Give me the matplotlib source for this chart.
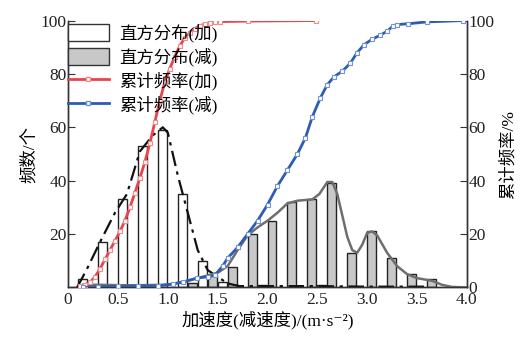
import numpy as np
import matplotlib
matplotlib.use("Agg")
import matplotlib.pyplot as plt
from matplotlib.patches import Patch
from matplotlib.lines import Line2D

plt.rcParams["font.family"] = ["Liberation Serif", "Noto Sans CJK SC", "DejaVu Sans"]

# histogram (accel) - left edges and counts
acc_left = [0.1, 0.3, 0.5, 0.7, 0.9, 1.1, 1.3, 1.5, 1.9, 2.5]
acc_count = [3, 17, 33, 53, 59, 35, 10, 2, 1, 1]
# histogram (decel)
dec_left = [1.2, 1.4, 1.6, 1.8, 2.0, 2.2, 2.4, 2.6, 2.8, 3.0, 3.2, 3.4, 3.6]
dec_count = [1.5, 4.5, 7.5, 20, 25, 32, 33, 39, 13, 21, 11, 5, 3]

# fitted curves
acc_fit_x = [0.09, 0.19, 0.32, 0.47, 0.59, 0.72, 0.85, 0.95, 1.0, 1.1, 1.2, 1.3,
             1.4, 1.5, 1.6, 1.72, 2.0, 2.5, 3.0, 3.6]
acc_fit_y = [0, 7, 17, 28, 35, 51, 57, 60, 58, 42, 28, 14,
             6.5, 4, 1.5, 0.5, 0.5, 0.5, 0.3, 0.3]
dec_fit_x = [0.15, 0.3, 0.6, 1.0, 1.2, 1.3, 1.4, 1.5, 1.6, 1.7, 1.8, 1.9, 2.0, 2.1,
             2.2, 2.3, 2.45, 2.52, 2.6, 2.65, 2.7, 2.75, 2.8, 2.85, 2.9, 2.95,
             3.0, 3.05, 3.1, 3.2, 3.3, 3.4, 3.5, 3.65, 3.75, 3.85, 4.0]
dec_fit_y = [1, 1, 0.8, 1, 2.5, 3.5, 4.5, 5.5, 8, 14, 19.5, 22.5, 25, 28,
             31.5, 32.5, 33, 35, 39.5, 39.5, 35, 27, 19, 14, 13, 16,
             20.5, 21, 19.5, 13, 8, 5, 3.5, 2.5, 1, 0.2, 0]

# cumulative frequency (%)
acc_cum_x = [0.12, 0.17, 0.22, 0.27, 0.32, 0.37, 0.42, 0.47, 0.52, 0.57, 0.62,
             0.67, 0.72, 0.77, 0.82, 0.87, 0.92, 0.97, 1.02, 1.07, 1.12, 1.17,
             1.22, 1.27, 1.32, 1.37, 1.42, 1.47, 1.52, 1.8, 2.49]
acc_cum_y = [0.5, 1, 2, 4, 7, 10.5, 14, 17.5, 21, 25, 30,
             35.5, 41, 47, 54, 62, 70, 77, 82, 86.5, 90.5, 93.5,
             95.5, 97, 98, 98.7, 99.2, 99.4, 99.6, 99.8, 100]
dec_cum_x = [0.15, 0.3, 0.5, 0.7, 0.9, 1.05, 1.15, 1.29, 1.4, 1.47, 1.55, 1.6,
             1.7, 1.8, 1.9, 2.0, 2.1, 2.2, 2.3, 2.38, 2.45, 2.53, 2.6, 2.67,
             2.75, 2.83, 2.9, 2.97, 3.05, 3.13, 3.2, 3.26, 3.3, 3.41, 3.6, 3.96]
dec_cum_y = [0, 0.3, 0.4, 0.5, 0.6, 1.3, 2, 3.5, 4, 4.5, 8, 11,
             15, 20, 25, 31, 38, 44, 50, 56, 64, 71, 76, 79,
             81, 84, 88, 91, 93, 94.5, 96, 98, 98.5, 98.8, 99.5, 100]

x_ticks = [0, 0.5, 1.0, 1.5, 2.0, 2.5, 3.0, 3.5, 4.0]
x_labels = ["0", "0.5", "1.0", "1.5", "2.0", "2.5", "3.0", "3.5", "4.0"]
y_ticks = [0, 20, 40, 60, 80, 100]

red = "#e8454a"
blue = "#2c5cb5"
gray = "#6e6e6e"

fig = plt.figure(figsize=(5.24, 3.37), dpi=100)
ax = fig.add_axes([0.130, 0.147, 0.761, 0.792])

ax.bar(acc_left, acc_count, width=0.09, align="edge", facecolor="white",
       edgecolor="#222222", linewidth=1.0, zorder=2)
ax.bar(dec_left, dec_count, width=0.09, align="edge", facecolor="#c8c8c8",
       edgecolor="#222222", linewidth=1.0, zorder=2)
ax.plot(acc_fit_x, acc_fit_y, color="#111111", lw=1.6, ls=(0, (7, 2.5, 1.5, 2.5)),
        zorder=3)
ax.plot(dec_fit_x, dec_fit_y, color=gray, lw=1.8, zorder=3)

ax.set_xlim(0, 4.0)
ax.set_ylim(0, 100)
ax.set_xticks(x_ticks)
ax.set_xticklabels(x_labels)
ax.set_yticks(y_ticks)
ax.set_yticklabels([""] + [str(v) for v in y_ticks[1:]])

ax2 = ax.twinx()
ax2.plot(acc_cum_x, acc_cum_y, color=red, lw=2.0, marker="s", ms=3.5,
         mfc="white", mec="#f08a8c", mew=0.8, zorder=4)
ax2.plot(dec_cum_x, dec_cum_y, color=blue, lw=2.0, marker="s", ms=3.5,
         mfc="white", mec="#6f93d6", mew=0.8, zorder=4)
ax2.set_ylim(0, 100)
ax2.set_yticks(y_ticks)

for a in (ax, ax2):
    a.spines["top"].set_visible(False)
    for s in a.spines.values():
        s.set_color("#333333")
        s.set_linewidth(1.0)
    a.tick_params(direction="in", length=5, color="#333333", labelcolor="#222222",
                  labelsize=12.5, pad=1)
ax.tick_params(axis="x", length=0, pad=3.5)

ax.set_ylabel("频数/个", fontsize=12.5, labelpad=2)
ax2.set_ylabel("累计频率/%", fontsize=12.5, labelpad=4)
ax.set_xlabel("加速度(减速度)/(m·s⁻²)", fontsize=12.5, labelpad=2)

handles = [
    Patch(facecolor="white", edgecolor="#333333", linewidth=1.0),
    Patch(facecolor="#c8c8c8", edgecolor="#333333", linewidth=1.0),
    Line2D([], [], color=red, lw=2.0, marker="s", ms=3.5, mfc="white", mec="#f08a8c"),
    Line2D([], [], color=blue, lw=2.0, marker="s", ms=3.5, mfc="white", mec="#6f93d6"),
]
labels = ["直方分布(加)", "直方分布(减)", "累计频率(加)", "累计频率(减)"]
ax2.legend(handles, labels, loc="upper left", bbox_to_anchor=(-0.01, 1.0),
           frameon=False, fontsize=12.5, handlelength=2.4, handleheight=1.15,
           handletextpad=0.55, labelspacing=0.3, borderaxespad=0.0,
           borderpad=0.2)

fig.savefig("out.png", dpi=100)
